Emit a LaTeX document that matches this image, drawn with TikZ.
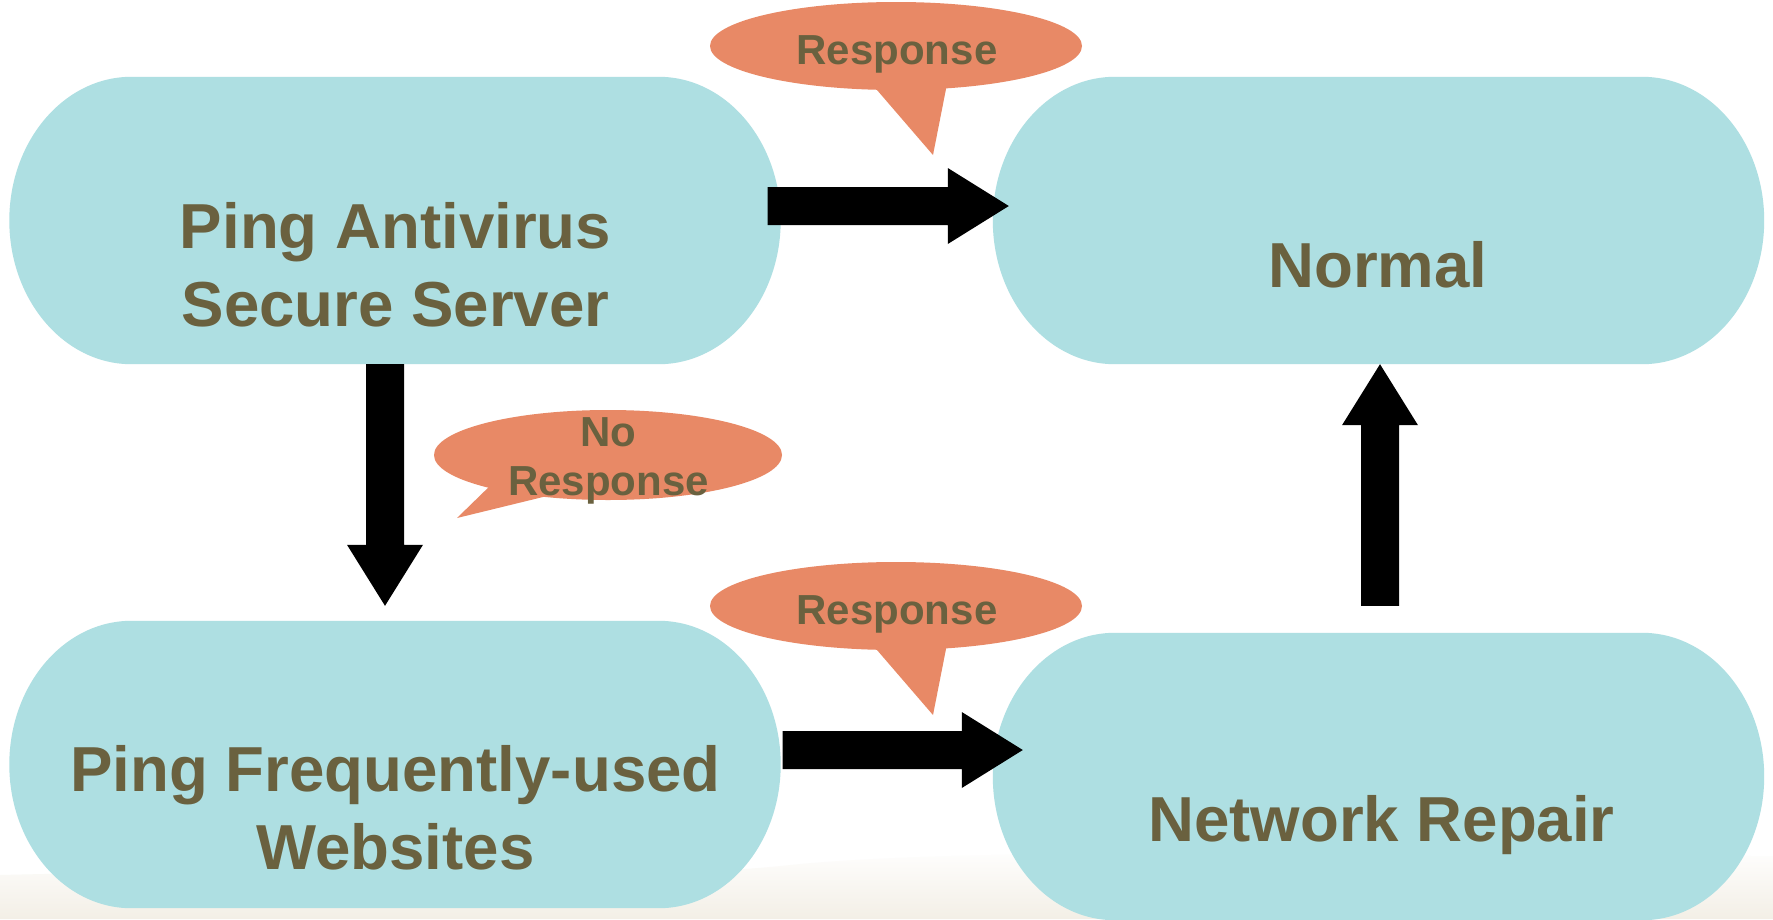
\documentclass[tikz,border=0pt]{standalone}
\usepackage{fontspec}
\setmainfont{Liberation Sans}
\usetikzlibrary{calc,shapes.geometric}
\definecolor{boxfill}{HTML}{AEDFE2}
\definecolor{txt}{HTML}{6A613F}
\definecolor{callfill}{HTML}{E88966}
\definecolor{sand}{HTML}{F3EFE6}
\tikzset{
  box/.style={rectangle, draw=none, inner sep=0pt, minimum width=771pt, minimum height=287pt},
  boxtext/.style={text=txt, font=\fontsize{63.6}{78}\selectfont\bfseries, align=center, inner sep=0pt, anchor=north},
  calltext/.style={text=txt, font=\fontsize{42}{49}\selectfont\bfseries, align=center, inner sep=0pt},
  bubble/.style={ellipse, fill=callfill, draw=none, inner sep=0pt},
}
\newcommand{\pillshape}[1]{%
  \fill[boxfill] let \p1=(#1.south west), \p2=(#1.north east), \n1={(\y2-\y1)/2} in
    (\x1+122pt,\y1) -- (\x2-122pt,\y1)
    arc[start angle=-90,end angle=90,x radius=122pt,y radius=\n1]
    -- (\x1+122pt,\y2)
    arc[start angle=90,end angle=270,x radius=122pt,y radius=\n1] -- cycle;}
\newcommand{\blockarrow}[2]{%
  \coordinate (bahead) at ($(#2)!61pt!(#1)$);
  \fill[black] ($(#1)!19pt!90:(#2)$) -- ($(bahead)!19pt!-90:(#1)$) -- ($(bahead)!38pt!-90:(#1)$)
    -- (#2) -- ($(bahead)!38pt!90:(#1)$) -- ($(bahead)!19pt!90:(#1)$) -- ($(#1)!19pt!-90:(#2)$) -- cycle;}
\begin{document}
\begin{tikzpicture}[x=1pt,y=-1pt]
\useasboundingbox (0,0) rectangle (1773,919);
\fill[white] (0,0) rectangle (1773,919);
\shade[top color=white, bottom color=sand] (0,919) -- (0,875) .. controls (400,865) and (600,886) .. (800,864) .. controls (1000,846) and (1400,856) .. (1773,856) -- (1773,919) -- cycle;

% boxes
\node[box] (A) at (395,220.5) {};
\node[box] (B) at (1378.5,220.5) {};
\node[box] (C) at (395,764.5) {};
\node[box] (D) at (1378.5,776.5) {};
\pillshape{A}
\pillshape{B}
\pillshape{C}
\pillshape{D}

\node[boxtext] (At) at (395.5,202) {Ping Antivirus\\Secure Server};
\node[boxtext] (Bt) at (1378,241) {Normal};
\node[boxtext] (Ct) at (395.5,745) {Ping Frequently-used\\Websites};
\node[boxtext] (Dt) at (1381.5,795) {Network Repair};

% arrows
\coordinate (a1s) at ($(A.east)+(-13,-14.5)$);
\coordinate (a1e) at ($(B.west)+(16,-14.5)$);
\coordinate (a2s) at ($(A.south)+(-10,0)$);
\coordinate (a2e) at ($(C.north)+(-10,-15)$);
\coordinate (a3s) at ($(C.east)+(2,-14.5)$);
\coordinate (a3e) at ($(D.west)+(30,-26.5)$);
\coordinate (a4s) at ($(D.north)+(1.5,-27)$);
\coordinate (a4e) at ($(B.south)+(1.5,0)$);
\blockarrow{a1s}{a1e}
\blockarrow{a2s}{a2e}
\blockarrow{a3s}{a3e}
\blockarrow{a4s}{a4e}

% callouts
\node[bubble, minimum width=372pt, minimum height=88pt] (r1) at (896,46) {};
\fill[callfill] (871.4,83.5) -- (933,155) -- (947.3,82.4) -- cycle;
\node[calltext, anchor=base] (r1t) at (897,64) {Response};

\node[bubble, minimum width=348pt, minimum height=90pt] (r2) at (608,455) {};
\fill[callfill] (494,482) -- (457,518) -- (551.6,494.9) -- cycle;
\node[calltext, anchor=north] (r2t) at (608.5,417) {No\\Response};

\node[bubble, minimum width=372pt, minimum height=88pt] (r3) at (896,606) {};
\fill[callfill] (871.4,643.5) -- (933,715) -- (947.3,642.4) -- cycle;
\node[calltext, anchor=base] (r3t) at (897,624) {Response};
\end{tikzpicture}
\end{document}
